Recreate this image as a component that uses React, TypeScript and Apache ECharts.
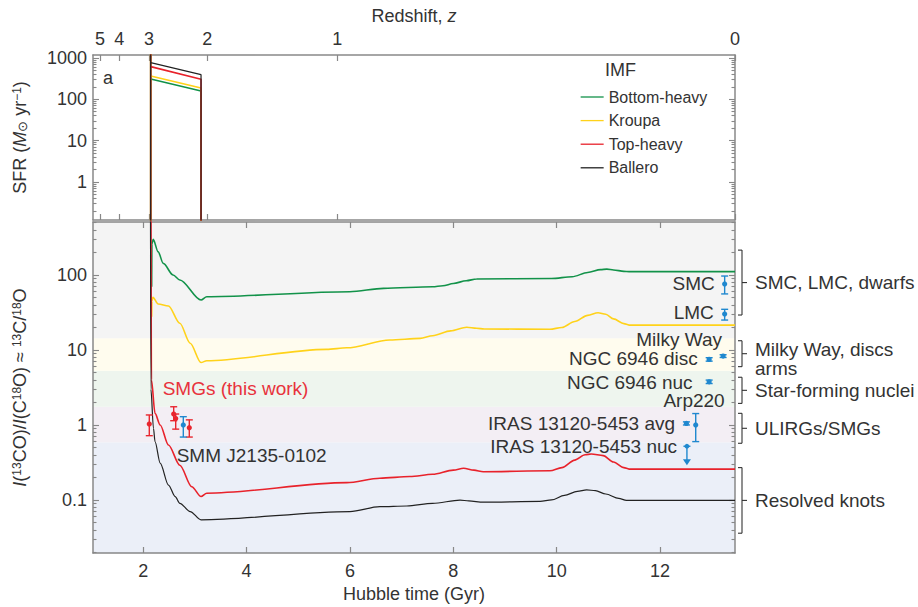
import React, { useEffect, useRef } from 'react';
import * as echarts from 'echarts';

// ---------- data ----------
const imfNames = ['Bottom-heavy', 'Kroupa', 'Top-heavy', 'Ballero'];

const hubbleTicks = [2, 4, 6, 8, 10, 12];
const redshiftLabels = ['5', '4', '3', '2', '1', '0'];
const redshiftTimes = [1.165, 1.539, 2.113, 3.241, 5.755, 13.45];

const sfrMajorTicks = [1, 10, 100, 1000];
const ratioMajorTicks = [0.1, 1, 10, 100];

// Panel a: star-formation rate (Msun/yr)
const sfrTime = [2.146, 2.146, 2.146, 3.12, 3.12];
const sfrBottomHeavy = [0.001, 10000, 309, 159, 0.001];
const sfrKroupa = [0.001, 10000, 366, 188, 0.001];
const sfrTopHeavy = [0.001, 10000, 617, 305, 0.001];
const sfrBallero = [0.001, 10000, 770, 395, 0.001];

// Panel b: 13CO/C18O ratio
const bhTime = [2.165, 2.17, 2.195, 2.29, 2.39, 2.58, 2.71, 3.12, 3.23, 6.0, 6.65, 7.6, 7.8, 8.0, 8.25, 8.45, 9.9, 10.3, 10.6, 10.85, 10.97, 11.1, 11.3, 11.4, 13.45];
const bhRatio = [70, 260, 299, 204, 143, 100, 86, 46.4, 51.4, 59.9, 66.4, 69.8, 72, 77, 84, 88.4, 90, 95, 108, 118, 120, 117, 112, 111, 111];

const krTime = [2.165, 2.17, 2.19, 2.29, 2.49, 2.71, 2.91, 3.12, 3.23, 5.55, 5.94, 6.77, 7.36, 7.6, 7.95, 8.26, 8.45, 8.6, 9.87, 10.1, 10.35, 10.6, 10.8, 10.95, 11.1, 11.3, 11.4, 13.45];
const krRatio = [27.8, 45, 50.4, 41, 38.6, 22.7, 12.3, 6.8, 7.2, 10.2, 10.7, 13.6, 14.3, 15.5, 18, 20.1, 19.5, 19.1, 18.9, 20, 24, 29, 31.4, 30, 26, 22.5, 21.5, 21.5];

const thTime = [2.15, 2.16, 2.23, 2.33, 2.49, 2.71, 2.94, 3.12, 3.23, 5.94, 6.58, 7.16, 7.6, 8.0, 8.2, 8.4, 8.58, 9.87, 10.1, 10.35, 10.55, 10.67, 10.9, 11.1, 11.3, 11.4, 13.45];
const thRatio = [5000, 4, 1.43, 1.0, 0.54, 0.29, 0.15, 0.111, 0.123, 0.17, 0.195, 0.205, 0.22, 0.25, 0.265, 0.25, 0.238, 0.245, 0.27, 0.34, 0.40, 0.41, 0.39, 0.32, 0.27, 0.258, 0.258];

const baTime = [2.14, 2.15, 2.2, 2.23, 2.33, 2.49, 2.62, 2.71, 2.91, 3.12, 6.0, 6.58, 7.1, 7.6, 8.13, 8.3, 8.58, 9.68, 9.9, 10.15, 10.4, 10.58, 10.75, 10.95, 11.2, 11.35, 13.45];
const baRatio = [5000, 3, 0.9, 0.6, 0.31, 0.158, 0.111, 0.09, 0.07, 0.0543, 0.07, 0.0815, 0.083, 0.09, 0.0995, 0.097, 0.0935, 0.0955, 0.1, 0.115, 0.13, 0.1366, 0.133, 0.12, 0.105, 0.0985, 0.0985];

// SMGs (this work)
const smgTime = [2.119, 2.591, 2.63, 2.893];
const smgRatio = [1.03, 1.40, 1.22, 0.92];
const smgLow = [0.72, 1.14, 0.88, 0.69];
const smgHigh = [1.36, 1.75, 1.40, 1.17];

// Local / literature objects
const litTime = [2.777, 13.25, 13.25, 13.22, 12.95, 12.95, 12.51, 12.69];
const litRatio = [1.0, 76, 30.2, 8.3, 7.5, 3.77, 1.05, 1.0];
const litLow = [0.69, 56, 25.1, 7.95, 7.1, 3.57, 1.0, 0.6];
const litHigh = [1.29, 97, 34.9, 8.65, 7.9, 3.97, 1.1, 1.42];

// Upper limit (IRAS 13120-5453 nuc)
const limitTime = [12.52];
const limitRatio = [0.52];
const limitTo = [0.29];

// Object labels (right aligned)
const objLabels = ['SMC', 'LMC', 'Milky Way', 'NGC 6946 disc', 'NGC 6946 nuc', 'Arp220', 'IRAS 13120-5453 avg', 'IRAS 13120-5453 nuc'];
const objLabelTime = [13.06, 13.04, 13.2, 12.73, 12.63, 13.25, 12.29, 12.33];
const objLabelRatio = [78, 32, 13.6, 7.8, 3.74, 2.15, 1.06, 0.51];

// Left-aligned labels
const leftLabels = ['SMGs (this work)', 'SMM J2135-0102'];
const leftLabelTime = [2.378, 2.649];
const leftLabelRatio = [3.04, 0.39];

// Brackets on the right
const bracketLabels = ['SMC, LMC, dwarfs', 'Milky Way, discs\narms', 'Star-forming nuclei', 'ULIRGs/SMGs', 'Resolved knots'];
const bracketHigh = [215, 13.3, 4.33, 1.43, 0.27];
const bracketLow = [29.3, 6.0, 1.94, 0.57, 0.036];

// Shaded bands (edges from bottom to top)
const bandEdges = [0.0196, 0.59, 1.75, 5.3, 14.3, 510];

// ---------- styles ----------
const FONT = '"Liberation Sans", Arial, Helvetica, sans-serif';
const TEXT = '#333';
const AXIS = '#888';
const imfColors = ['#129249', '#ffd21a', '#e8222b', '#222222'];
const imfWidths = [1.6, 1.6, 1.6, 1.2];
const bandColors = ['#ebeff8', '#f3eef4', '#eef5ee', '#fffcee', '#f4f4f4'];
const RED = '#e8262e';
const BLUE = '#1f88cf';
const leftLabelColors = ['#e8323c', '#333'];

const HMIN = 1.03;
const HMAX = 13.45;

const minorOf = (decades: number[]) => decades.flatMap((d) => [2, 3, 4, 5, 6, 7, 8, 9].map((k) => +(k * d).toPrecision(3)));
const sfrMinor = minorOf([0.1, 1, 10, 100]);
const ratioMinor = minorOf([0.01, 0.1, 1, 10, 100]);

const fmtNum = (v: number) => (v >= 1 ? String(Math.round(v)) : String(+v.toPrecision(2)));

function xAxis(gridIndex: number, position: 'top' | 'bottom', opts: any) {
  return {
    type: 'value',
    gridIndex,
    position,
    min: HMIN,
    max: HMAX,
    splitLine: { show: false },
    axisLine: { show: true, onZero: false, lineStyle: { color: AXIS, width: 1.5 } },
    axisTick: { show: true, inside: true, length: 6, lineStyle: { color: AXIS, width: 1.2 }, customValues: opts.ticks },
    axisLabel: opts.labels
      ? { show: true, customValues: opts.ticks, formatter: opts.formatter, fontSize: 18, color: TEXT, fontFamily: FONT, margin: opts.margin ?? 8 }
      : { show: false },
    name: opts.name,
    nameLocation: 'middle',
    nameGap: opts.nameGap,
    nameTextStyle: opts.nameTextStyle,
  };
}

function yAxis(gridIndex: number, position: 'left' | 'right', min: number, max: number, ticks: number[], major: boolean, label: boolean, name?: string, nameStyle?: any) {
  return {
    type: 'log',
    logBase: 10,
    gridIndex,
    position,
    min,
    max,
    splitLine: { show: false },
    minorTick: { show: false },
    axisLine: { show: major, onZero: false, lineStyle: { color: AXIS, width: 1.5 } },
    axisTick: { show: true, inside: true, length: major ? 6 : 3.5, lineStyle: { color: AXIS, width: 1.1 }, customValues: ticks },
    axisLabel: label
      ? { show: true, customValues: ticks, formatter: (v: number) => fmtNum(v), fontSize: 18, color: TEXT, fontFamily: FONT, margin: 6 }
      : { show: false },
    name: name,
    nameLocation: 'middle',
    nameGap: 64,
    nameRotate: 90,
    nameTextStyle: nameStyle,
  };
}

const nameRich = {
  fontSize: 18,
  color: TEXT,
  fontFamily: FONT,
  rich: {
    n: { fontSize: 18, color: TEXT, fontFamily: FONT },
    i: { fontSize: 18, color: TEXT, fontFamily: FONT, fontStyle: 'italic' },
    sup: { fontSize: 12, color: TEXT, fontFamily: FONT, verticalAlign: 'top' },
    sub: { fontSize: 13, color: TEXT, fontFamily: FONT, verticalAlign: 'bottom' },
  },
};

function zip(a: number[], b: number[]) {
  return a.map((v, i) => [v, b[i]]);
}

function errorBars(name: string, t: number[], v: number[], lo: number[], hi: number[], color: string) {
  return {
    type: 'custom',
    name,
    xAxisIndex: 3,
    yAxisIndex: 4,
    z: 10,
    clip: false,
    data: t.map((x, i) => [x, v[i], lo[i], hi[i]]),
    renderItem: (_p: any, api: any) => {
      const p = api.coord([api.value(0), api.value(1)]);
      const l = api.coord([api.value(0), api.value(2)]);
      const h = api.coord([api.value(0), api.value(3)]);
      const w = 3.5;
      const st = { stroke: color, lineWidth: 1.4 };
      return {
        type: 'group',
        children: [
          { type: 'line', shape: { x1: p[0], y1: l[1], x2: p[0], y2: h[1] }, style: st },
          { type: 'line', shape: { x1: p[0] - w, y1: l[1], x2: p[0] + w, y2: l[1] }, style: st },
          { type: 'line', shape: { x1: p[0] - w, y1: h[1], x2: p[0] + w, y2: h[1] }, style: st },
          { type: 'circle', shape: { cx: p[0], cy: p[1], r: 2.6 }, style: { fill: color } },
        ],
      };
    },
  };
}

const option: any = {
  animation: false,
  backgroundColor: '#fff',
  textStyle: { fontFamily: FONT },
  grid: [
    { left: 93, top: 55, width: 642, height: 165, containLabel: false, outerBoundsMode: 'none' },
    { left: 93, top: 222, width: 642, height: 331, containLabel: false, outerBoundsMode: 'none' },
  ],
  legend: {
    data: imfNames,
    orient: 'vertical',
    left: 575,
    top: 84,
    itemWidth: 23,
    itemHeight: 14,
    itemGap: 7.6,
    itemStyle: { opacity: 0 },
    lineStyle: { width: 1.3 },
    textStyle: { fontSize: 16, color: TEXT, fontFamily: FONT },
    selectedMode: false,
  },
  xAxis: [
    xAxis(0, 'top', {
      ticks: redshiftTimes,
      labels: true,
      margin: 7,
      formatter: (v: number) => {
        const i = redshiftTimes.findIndex((t) => Math.abs(t - v) < 1e-6);
        return i >= 0 ? redshiftLabels[i] : '';
      },
      name: '{n|Redshift, }{i|z}',
      nameGap: 30,
      nameTextStyle: nameRich,
    }),
    xAxis(0, 'bottom', { ticks: redshiftTimes, labels: false }),
    xAxis(1, 'top', { ticks: hubbleTicks, labels: false }),
    xAxis(1, 'bottom', {
      ticks: hubbleTicks,
      labels: true,
      margin: 9,
      formatter: (v: number) => String(Math.round(v)),
      name: 'Hubble time (Gyr)',
      nameGap: 30,
      nameTextStyle: { fontSize: 18, color: TEXT, fontFamily: FONT },
    }),
  ],
  yAxis: [
    yAxis(0, 'left', 0.12, 1180, sfrMajorTicks, true, true, '{n|SFR (}{i|M}{sub|⊙}{n| yr}{sup|−1}{n|)}', nameRich),
    yAxis(0, 'left', 0.12, 1180, sfrMinor, false, false),
    yAxis(0, 'right', 0.12, 1180, sfrMajorTicks, true, false),
    yAxis(0, 'right', 0.12, 1180, sfrMinor, false, false),
    yAxis(1, 'left', 0.0196, 510, ratioMajorTicks, true, true, '{i|I}{n|(}{sup|13}{n|CO)/}{i|I}{n|(C}{sup|18}{n|O) ≈ }{sup|13}{n|C/}{sup|18}{n|O}', nameRich),
    yAxis(1, 'left', 0.0196, 510, ratioMinor, false, false),
    yAxis(1, 'right', 0.0196, 510, ratioMajorTicks, true, false),
    yAxis(1, 'right', 0.0196, 510, ratioMinor, false, false),
  ],
  graphic: [
    { type: 'text', left: 103, top: 69, style: { text: 'a', fontSize: 18, fill: TEXT, fontFamily: FONT } },
    { type: 'text', left: 103, top: 252, style: { text: 'b', fontSize: 18, fill: TEXT, fontFamily: FONT } },
    { type: 'text', left: 605, top: 61, style: { text: 'IMF', fontSize: 18, fill: TEXT, fontFamily: FONT } },
  ],
  series: [
    // shaded bands
    {
      type: 'line',
      name: 'bands',
      xAxisIndex: 3,
      yAxisIndex: 4,
      data: [],
      z: 0,
      silent: true,
      markArea: {
        silent: true,
        z: 0,
        data: bandColors.map((c, i) => [
          { yAxis: bandEdges[i], itemStyle: { color: c } },
          { yAxis: bandEdges[i + 1] },
        ]),
      },
    },
    // panel a
    ...[sfrBottomHeavy, sfrKroupa, sfrTopHeavy, sfrBallero].map((vals, k) => ({
      type: 'line',
      name: imfNames[k],
      xAxisIndex: 0,
      yAxisIndex: 0,
      data: zip(sfrTime, vals),
      symbol: 'none',
      z: 3 + k,
      lineStyle: { color: imfColors[k], width: imfWidths[k] },
      itemStyle: { color: imfColors[k] },
    })),
    // panel b
    ...[
      [bhTime, bhRatio],
      [krTime, krRatio],
      [thTime, thRatio],
      [baTime, baRatio],
    ].map(([t, v], k) => ({
      type: 'line',
      name: imfNames[k],
      xAxisIndex: 3,
      yAxisIndex: 4,
      data: zip(t, v),
      symbol: 'none',
      smooth: 0.3,
      smoothMonotone: 'x',
      z: 3 + k,
      lineStyle: { color: imfColors[k], width: imfWidths[k] },
      itemStyle: { color: imfColors[k] },
    })),
    errorBars('SMGs', smgTime, smgRatio, smgLow, smgHigh, RED),
    errorBars('Literature', litTime, litRatio, litLow, litHigh, BLUE),
    {
      type: 'custom',
      name: 'limit',
      xAxisIndex: 3,
      yAxisIndex: 4,
      z: 10,
      clip: false,
      data: limitTime.map((t, i) => [t, limitRatio[i], limitTo[i]]),
      renderItem: (_p: any, api: any) => {
        const p = api.coord([api.value(0), api.value(1)]);
        const e = api.coord([api.value(0), api.value(2)]);
        const st = { stroke: BLUE, lineWidth: 1.4 };
        return {
          type: 'group',
          children: [
            { type: 'line', shape: { x1: p[0] - 3.5, y1: p[1], x2: p[0] + 3.5, y2: p[1] }, style: st },
            { type: 'line', shape: { x1: p[0], y1: p[1], x2: p[0], y2: e[1] - 4 }, style: st },
            { type: 'polygon', shape: { points: [[p[0] - 4, e[1] - 6], [p[0] + 4, e[1] - 6], [p[0], e[1]]] }, style: { fill: BLUE } },
            { type: 'circle', shape: { cx: p[0], cy: p[1], r: 2.4 }, style: { fill: BLUE } },
          ],
        };
      },
    },
    {
      type: 'custom',
      name: 'objLabels',
      xAxisIndex: 3,
      yAxisIndex: 4,
      z: 11,
      clip: false,
      silent: true,
      data: objLabelTime.map((t, i) => [t, objLabelRatio[i], i]),
      renderItem: (_p: any, api: any) => {
        const p = api.coord([api.value(0), api.value(1)]);
        return {
          type: 'text',
          x: p[0],
          y: p[1],
          style: { text: objLabels[api.value(2)], fill: TEXT, fontSize: 19, fontFamily: FONT, align: 'right', verticalAlign: 'middle' },
        };
      },
    },
    {
      type: 'custom',
      name: 'leftLabels',
      xAxisIndex: 3,
      yAxisIndex: 4,
      z: 11,
      clip: false,
      silent: true,
      data: leftLabelTime.map((t, i) => [t, leftLabelRatio[i], i]),
      renderItem: (_p: any, api: any) => {
        const p = api.coord([api.value(0), api.value(1)]);
        const i = api.value(2);
        return {
          type: 'text',
          x: p[0],
          y: p[1],
          style: { text: leftLabels[i], fill: leftLabelColors[i], fontSize: 19, fontFamily: FONT, align: 'left', verticalAlign: 'middle' },
        };
      },
    },
    {
      type: 'custom',
      name: 'brackets',
      xAxisIndex: 3,
      yAxisIndex: 4,
      z: 11,
      clip: false,
      silent: true,
      data: bracketLow.map((lo, i) => [HMAX, lo, bracketHigh[i], i]),
      renderItem: (_p: any, api: any) => {
        const l = api.coord([api.value(0), api.value(1)]);
        const h = api.coord([api.value(0), api.value(2)]);
        const i = api.value(3);
        const x0 = l[0];
        const xv = x0 + 7;
        const mid = (l[1] + h[1]) / 2;
        const st = { stroke: '#333', lineWidth: 1.1 };
        const txt = bracketLabels[i];
        const multi = txt.indexOf('\n') >= 0;
        return {
          type: 'group',
          children: [
            { type: 'line', shape: { x1: xv, y1: h[1], x2: xv, y2: l[1] }, style: st },
            { type: 'line', shape: { x1: xv - 4, y1: h[1], x2: xv, y2: h[1] }, style: st },
            { type: 'line', shape: { x1: xv - 4, y1: l[1], x2: xv, y2: l[1] }, style: st },
            { type: 'line', shape: { x1: xv, y1: mid, x2: xv + 5, y2: mid }, style: st },
            {
              type: 'text',
              x: x0 + 20,
              y: multi ? mid - 14 : mid,
              style: { text: txt, fill: TEXT, fontSize: 19, fontFamily: FONT, align: 'left', verticalAlign: multi ? 'top' : 'middle', lineHeight: 19 },
            },
          ],
        };
      },
    },
  ],
};

export default function App() {
  const ref = useRef<HTMLDivElement>(null);
  useEffect(() => {
    const chart = echarts.init(ref.current!, null, { renderer: 'svg' });
    chart.setOption(option);
    return () => chart.dispose();
  }, []);
  return (
    <div
      ref={ref}
      style={{ position: 'fixed', left: 0, top: 0, width: 918, height: 607, background: '#fff' }}
    />
  );
}
